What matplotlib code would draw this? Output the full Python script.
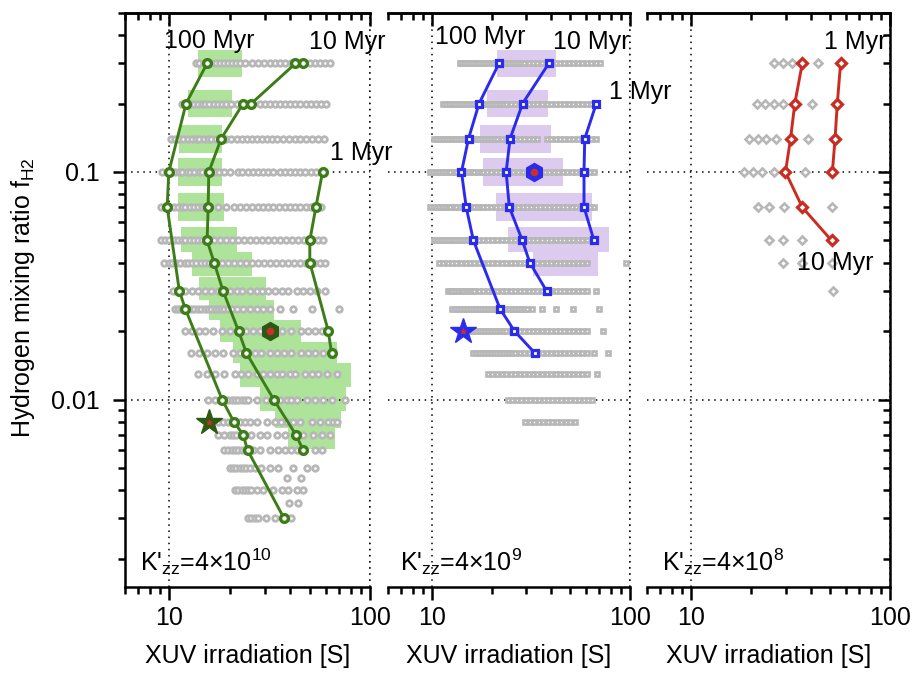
import numpy as np
import matplotlib
matplotlib.use("Agg")
import matplotlib.pyplot as plt
from matplotlib.patches import Rectangle
from matplotlib.ticker import FixedLocator, LogLocator, NullFormatter, FuncFormatter

plt.rcParams['font.family'] = ['Liberation Sans', 'DejaVu Sans']
plt.rcParams['mathtext.default'] = 'regular'
plt.rcParams['font.size'] = 18

# ---------------- panel 1 (K'zz = 4e10) ----------------
grey1_y = [0.3, 0.2, 0.14, 0.1, 0.07, 0.05, 0.04, 0.03, 0.025, 0.02, 0.016, 0.013,
           0.01, 0.008, 0.007, 0.006, 0.005, 0.0045, 0.004, 0.0035, 0.003]
grey1_x = [
    [13.5, 14.1, 14.8, 15.5, 16.2, 17.0, 17.8, 18.6, 19.5, 20.4, 21.4, 22.4, 23.7, 25.7, 27.5,
     29.5, 31.6, 33.5, 35.5, 37.6, 40.3, 43.2, 46.8, 50.1, 53.1, 56.2, 59.6, 63.1],
    [11.5, 12.0, 12.6, 13.2, 13.8, 14.5, 15.1, 15.8, 16.6, 17.4, 18.2, 19.1, 20.2, 21.6, 23.1,
     25.7, 28.2, 29.9, 31.6, 33.5, 35.5, 37.6, 39.8, 42.2, 44.7, 47.9, 50.7, 53.7, 56.9, 60.3],
    [10.2, 10.7, 11.2, 11.7, 12.3, 12.9, 13.5, 14.1, 14.8, 15.5, 16.2, 17.0, 18.2, 19.1, 20.2,
     21.6, 22.9, 24.3, 25.7, 27.2, 28.8, 30.5, 32.4, 34.3, 36.7, 39.4, 42.2, 44.7, 47.9, 51.3,
     54.9, 58.9],
    [9.2, 9.7, 10.1, 10.6, 11.1, 11.6, 12.2, 12.7, 13.3, 14.0, 14.6, 15.3, 16.0, 16.8, 17.6,
     18.6, 20.0, 21.9, 23.1, 24.5, 26.0, 27.5, 29.2, 30.9, 32.7, 35.5, 37.6, 39.8, 42.2, 44.7,
     47.3, 50.7, 53.7],
    [9.1, 9.5, 10.0, 10.5, 11.0, 11.5, 12.0, 12.6, 13.2, 13.8, 14.5, 15.1, 15.8, 17.4, 19.1,
     20.9, 22.4, 24.0, 25.7, 27.5, 29.2, 30.9, 32.7, 35.1, 37.6, 39.8, 42.2, 44.7, 47.9, 50.7,
     53.7, 56.9],
    [9.1, 9.5, 10.0, 10.5, 11.0, 11.5, 12.0, 12.6, 13.2, 13.8, 14.5, 15.3, 16.6, 17.8, 19.1,
     20.4, 21.9, 23.4, 25.1, 26.9, 28.8, 30.9, 33.1, 35.5, 38.0, 40.7, 43.7, 46.8, 51.3, 54.9, 58.2],
    [9.4, 9.9, 10.3, 10.8, 11.3, 11.9, 12.4, 13.0, 13.6, 14.3, 15.0, 15.8, 17.0, 18.2, 19.5,
     20.9, 22.4, 24.0, 25.7, 27.5, 29.5, 31.6, 33.9, 36.3, 38.9, 41.7, 44.7, 47.9, 52.5, 56.2, 59.6],
    [10.4, 11.2, 11.9, 12.9, 13.8, 15.0, 16.2, 17.4, 18.4, 20.0, 21.6, 23.1, 25.1, 27.2, 28.8,
     30.9, 33.5, 36.3, 38.9, 43.2, 46.2, 50.1, 54.3, 59.6],
    [10.6, 11.0, 11.4, 11.9, 12.3, 12.8, 13.3, 13.9, 14.4, 15.0, 15.5, 16.1, 16.8, 17.4, 18.1,
     18.8, 19.6, 20.4, 21.6, 23.3, 25.1, 27.2, 29.2, 31.6, 35.5, 41.4, 51.2, 70.0],
    [11.9, 12.9, 14.0, 15.1, 16.5, 18.3, 20.0, 22.2, 24.0, 26.1, 28.2, 31.6, 36.2, 40.5, 45.5,
     49.2, 53.1, 57.4, 62.0],
    [12.8, 14.0, 15.3, 16.8, 18.5, 20.7, 22.4, 24.2, 26.6, 28.7, 31.6, 34.2, 37.2, 40.5, 45.5,
     49.2, 53.1, 58.5, 64.3],
    [13.9, 15.3, 16.8, 18.8, 21.1, 22.8, 24.6, 27.2, 29.3, 31.6, 34.2, 36.6, 39.8, 42.2, 47.3,
     51.2, 55.3, 60.7, 68.2],
    [15.5, 16.8, 18.1, 19.6, 20.4, 21.1, 22.0, 22.9, 23.7, 24.6, 27.2, 30.2, 32.9, 35.5, 38.4,
     40.5, 43.0, 48.3, 53.1, 58.5, 64.3, 75.0],
    [17.4, 18.5, 19.6, 20.4, 21.1, 22.4, 23.7, 25.1, 27.2, 30.5, 33.5, 35.9, 38.4, 41.4, 44.7,
     51.2, 56.2, 62.0, 65.6, 68.2],
    [17.4, 18.8, 20.0, 20.7, 21.5, 23.1, 25.6, 28.2, 30.6, 34.2, 37.6, 42.2, 46.4, 52.1, 57.4, 63.1],
    [18.8, 19.6, 20.4, 21.1, 22.0, 22.9, 23.7, 24.5, 26.1, 28.2, 31.6, 34.8, 37.6, 40.5, 43.0,
     46.4, 53.1, 57.4],
    [20.0, 20.7, 21.5, 22.4, 23.3, 24.2, 25.1, 26.6, 28.7, 31.6, 34.8, 41.4, 48.3, 53.1],
    [38.4, 45.5],
    [21.1, 22.0, 22.9, 23.7, 24.6, 25.6, 27.2, 29.2, 32.9, 36.2, 39.1, 43.0, 46.4],
    [39.4, 43.9],
    [24.6, 25.6, 26.6, 27.6, 30.2, 33.5, 37.2, 40.5],
]
box1_y = [0.3, 0.2, 0.14, 0.1, 0.07, 0.05, 0.04, 0.03, 0.025, 0.02, 0.016, 0.013, 0.01, 0.008, 0.007]
box1_lo = [13.8, 12.4, 11.2, 11.0, 11.0, 11.4, 13.0, 14.1, 15.7, 17.8, 20.7, 22.6, 28.2, 33.5, 39.0]
box1_hi = [23.1, 20.4, 18.3, 18.3, 18.8, 21.8, 25.9, 30.2, 33.3, 45.2, 68.1, 80.1, 75.7, 71.6, 66.8]

g1_x = [58.0, 53.7, 50.1, 50.1, 61.9, 64.3]
g1_y = [0.1, 0.07, 0.05, 0.04, 0.02, 0.016]
g10_x = [46.4, 42.5, 25.6, 23.3, 18.1, 15.7, 15.6, 15.4, 16.7, 18.5, 22.1, 24.2, 33.1, 42.7, 46.4]
g10_y = [0.3, 0.3, 0.2, 0.2, 0.14, 0.1, 0.07, 0.05, 0.04, 0.03, 0.02, 0.016, 0.01, 0.007, 0.006]
g100_x = [15.4, 12.1, 9.92, 9.74, 11.2, 12.0, 18.3, 20.9, 23.3, 24.5, 37.3]
g100_y = [0.3, 0.2, 0.1, 0.07, 0.03, 0.025, 0.01, 0.008, 0.007, 0.006, 0.003]
hex1 = (31.6, 0.02)
star1 = (15.7, 0.008)

# ---------------- panel 2 (K'zz = 4e9) ----------------
grey2_y = [0.3, 0.2, 0.14, 0.1, 0.07, 0.05, 0.04, 0.03, 0.025, 0.02, 0.016, 0.013, 0.01, 0.008]
grey2_x = [
    [13.8, 14.1, 14.6, 15.1, 15.6, 16.2, 16.7, 17.3, 17.9, 18.6, 19.2, 19.9, 20.6, 21.3, 22.1,
     22.9, 23.7, 24.5, 25.4, 26.3, 27.2, 28.2, 29.2, 30.8, 32.4, 34.1, 36.0, 37.9, 39.9, 42.1,
     44.3, 46.7, 49.2, 51.8, 54.6, 57.5, 60.6, 63.8, 67.2, 70.8],
    [11.4, 11.8, 12.2, 12.7, 13.1, 13.6, 14.1, 14.6, 15.1, 15.6, 16.2, 16.7, 17.3, 17.9, 18.6,
     19.2, 19.9, 20.6, 21.3, 22.1, 22.9, 23.7, 25.0, 26.3, 27.7, 29.2, 30.8, 32.4, 34.1, 36.0,
     37.9, 39.9, 42.1, 44.3, 46.7, 49.2, 51.8, 54.6, 57.5, 60.6, 63.8, 67.2],
    [10.3, 10.6, 11.0, 11.4, 11.8, 12.2, 12.7, 13.1, 13.6, 14.1, 14.6, 15.1, 15.6, 16.2, 16.7,
     17.3, 17.9, 18.6, 19.2, 19.9, 20.6, 21.3, 22.5, 23.7, 25.0, 26.3, 27.7, 29.2, 30.8, 32.4,
     34.1, 37.9, 39.9, 42.1, 44.3, 46.7, 49.2, 51.8, 54.6, 57.5, 60.6, 63.8, 67.2],
    [9.8, 10.1, 10.5, 10.8, 11.2, 11.6, 12.0, 12.4, 12.9, 13.3, 13.8, 14.3, 14.8, 15.3, 15.9,
     16.4, 17.0, 17.6, 18.2, 18.9, 19.9, 21.0, 22.1, 23.3, 24.5, 25.8, 27.2, 28.7, 30.2, 31.8,
     33.5, 35.3, 37.2, 39.2, 41.3, 43.5, 45.8, 48.3, 50.9, 53.6, 56.5, 59.5, 62.7, 66.0],
    [9.8, 10.1, 10.5, 10.8, 11.2, 11.6, 12.0, 12.4, 12.9, 13.3, 13.8, 14.3, 14.8, 15.3, 15.9,
     16.4, 17.0, 17.6, 18.2, 18.9, 19.9, 21.0, 22.1, 23.3, 24.5, 25.8, 27.2, 28.7, 30.2, 31.8,
     33.5, 35.3, 37.2, 39.2, 41.3, 43.5, 45.8, 48.3, 50.9, 53.6, 56.5, 59.5, 62.7, 66.0],
    [10.3, 10.6, 11.0, 11.4, 11.8, 12.2, 12.7, 13.1, 13.6, 14.1, 14.6, 15.1, 15.6, 16.4, 17.3,
     18.2, 19.2, 20.2, 21.3, 22.5, 23.7, 25.0, 26.3, 27.7, 29.2, 30.8, 32.4, 34.1, 36.0, 37.9,
     39.9, 42.1, 44.3, 46.7, 49.2, 51.8, 54.6, 57.5, 60.6],
    [10.8, 11.4, 12.0, 12.7, 13.3, 14.0, 14.8, 15.6, 16.4, 17.3, 18.2, 19.2, 20.2, 21.3, 22.5,
     23.7, 25.0, 26.3, 27.7, 29.2, 30.8, 32.4, 34.1, 36.0, 37.9, 39.9, 42.1, 44.3, 46.7, 49.2,
     51.8, 54.6, 57.5, 60.6, 95.5],
    [12.0, 12.4, 12.7, 13.1, 13.6, 14.0, 14.4, 14.8, 15.2, 15.6, 16.0, 16.4, 17.3, 18.2, 19.2,
     20.2, 21.3, 22.5, 23.7, 25.0, 26.3, 27.7, 29.2, 30.8, 32.4, 34.1, 36.0, 37.9, 39.9, 42.1,
     44.3, 46.7, 49.2, 51.8, 54.6, 57.5, 60.6, 67.2],
    [12.7, 13.1, 13.6, 14.1, 14.6, 15.1, 15.6, 16.2, 16.7, 17.3, 17.9, 18.6, 19.2, 19.9, 20.6,
     21.3, 22.1, 22.9, 23.7, 24.5, 25.4, 26.3, 27.2, 28.2, 29.2, 30.2, 31.9, 36.1, 42.2, 51.6, 70.1],
    [15.6, 16.2, 16.7, 17.3, 17.9, 18.6, 19.2, 19.9, 20.6, 21.3, 22.1, 22.9, 23.7, 25.0, 26.3,
     27.7, 29.2, 30.8, 32.4, 34.1, 36.0, 37.9, 39.9, 42.1, 44.3, 46.7, 49.2, 51.8, 54.6, 57.5,
     60.6, 73.0],
    [16.2, 16.7, 17.3, 17.9, 18.6, 19.2, 19.9, 20.6, 21.3, 22.1, 22.9, 23.7, 24.5, 25.4, 26.3,
     27.7, 29.2, 30.8, 32.4, 34.1, 36.0, 37.9, 39.9, 42.1, 44.3, 46.7, 49.2, 51.8, 54.6, 57.5,
     60.6, 65.6, 77.4],
    [19.2, 20.2, 21.3, 22.5, 23.7, 25.0, 26.3, 27.7, 29.2, 30.8, 32.4, 34.1, 36.0, 37.9, 39.9,
     42.1, 44.3, 46.7, 49.2, 51.8, 54.6, 57.5, 60.6, 68.5],
    [24.2, 25.5, 26.8, 28.3, 29.8, 31.4, 33.0, 34.8, 36.6, 38.6, 40.6, 42.8, 45.1, 47.5, 50.0,
     52.7, 55.5, 58.4, 61.6, 64.5],
    [29.5, 31.2, 32.8, 34.6, 36.4, 38.4, 40.4, 42.6, 44.9, 47.3, 49.8, 52.5],
]
box2_y = [0.3, 0.2, 0.14, 0.1, 0.07, 0.05, 0.04]
box2_lo = [21.4, 19.0, 17.5, 18.2, 21.1, 24.2, 32.4]
box2_hi = [42.2, 38.5, 39.8, 45.8, 64.1, 78.2, 69.1]

b1_x = [67.6, 59.1, 58.6, 58.6, 65.8]
b1_y = [0.2, 0.14, 0.1, 0.07, 0.05]
b10_x = [38.9, 28.7, 24.8, 23.7, 24.6, 28.6, 31.2, 37.9]
b10_y = [0.3, 0.2, 0.14, 0.1, 0.07, 0.05, 0.04, 0.03]
b100_x = [21.8, 17.3, 15.3, 14.1, 14.9, 16.2, 22.1, 26.1, 33.1]
b100_y = [0.3, 0.2, 0.14, 0.1, 0.07, 0.05, 0.025, 0.02, 0.016]
hex2 = (32.8, 0.1)
star2 = (14.4, 0.02)

# ---------------- panel 3 (K'zz = 4e8) ----------------
grey3_y = [0.3, 0.2, 0.14, 0.1, 0.07, 0.05, 0.04, 0.03]
grey3_x = [
    [26.0, 28.9, 32.0, 43.6],
    [21.4, 23.6, 26.0, 28.9, 40.4],
    [19.6, 21.6, 23.9, 26.8, 38.7],
    [18.5, 20.4, 22.7, 26.0, 37.2],
    [21.6, 24.7, 29.2, 50.8],
    [24.5, 28.9, 36.2],
    [28.9, 36.2, 50.8],
    [51.6],
]
r1_x = [56.4, 54.3, 52.9, 51.3]
r1_y = [0.3, 0.2, 0.14, 0.1]
r10_x = [36.2, 33.2, 31.6, 29.8, 36.2, 50.8]
r10_y = [0.3, 0.2, 0.14, 0.1, 0.07, 0.05]

green = '#3d7d18'
dkgreen = '#2c5a12'
lightgreen = '#ade49a'
blue = '#2b2bee'
lavender = '#dccbef'
red = '#cc2b1f'
grey = '#b7b7b7'
dot = (0, (1, 3))

fig = plt.figure(figsize=(9.17, 6.75), dpi=100)
ax1 = fig.add_axes([0.1363, 0.1304, 0.2672, 0.8504])
ax2 = fig.add_axes([0.4231, 0.1304, 0.2639, 0.8504])
ax3 = fig.add_axes([0.7056, 0.1304, 0.2650, 0.8504])


def style(ax, side):
    ax.patch.set_visible(False)
    ax.set_xscale('log')
    ax.set_yscale('log')
    ax.set_xlim(6, 100)
    ax.set_ylim(0.0015, 0.5)
    for s in ax.spines.values():
        s.set_linewidth(1.8)
    ax.spines['left'].set_visible(side == 'left')
    ax.spines['right'].set_visible(side == 'right')
    ax.xaxis.set_major_locator(FixedLocator([10, 100]))
    ax.xaxis.set_minor_locator(LogLocator(base=10, subs=np.arange(2, 10)))
    ax.xaxis.set_major_formatter(FuncFormatter(lambda v, p: f'{v:g}'))
    ax.xaxis.set_minor_formatter(NullFormatter())
    ax.yaxis.set_major_locator(FixedLocator([0.01, 0.1]))
    ax.yaxis.set_minor_locator(LogLocator(base=10, subs=np.arange(2, 10)))
    ax.yaxis.set_major_formatter(FuncFormatter(lambda v, p: f'{v:g}'))
    ax.yaxis.set_minor_formatter(NullFormatter())
    ax.grid(True, which='major', color='k', ls=dot, lw=1.1)
    if side != 'right':
        # gridline at x=100 sits on the open right edge
        ax.axvline(100, color='k', ls=dot, lw=1.1, clip_on=False, zorder=0.5)
    ax.tick_params(axis='x', which='both', direction='out', top=False, width=1.8, pad=5)
    ax.tick_params(axis='x', which='major', length=9)
    ax.tick_params(axis='x', which='minor', length=5)
    if side == 'left':
        ax.tick_params(axis='y', which='both', direction='out', right=False, width=1.8, pad=9)
    elif side == 'right':
        ax.yaxis.tick_right()
        ax.tick_params(axis='y', which='both', direction='in', left=False,
                       labelright=False, width=1.8)
    else:
        ax.tick_params(axis='y', which='both', left=False, right=False, labelleft=False)
    ax.tick_params(axis='y', which='major', length=9)
    ax.tick_params(axis='y', which='minor', length=5)
    # top ticks point into the panel
    tw = ax.twiny()
    tw.set_xscale('log')
    tw.set_xlim(6, 100)
    tw.xaxis.set_major_locator(FixedLocator([10, 100]))
    tw.xaxis.set_minor_locator(LogLocator(base=10, subs=np.arange(2, 10)))
    tw.xaxis.set_minor_formatter(NullFormatter())
    tw.tick_params(axis='x', which='both', direction='in', top=True, bottom=False,
                   labeltop=False, width=1.8)
    tw.tick_params(axis='x', which='major', length=9)
    tw.tick_params(axis='x', which='minor', length=5)
    for k, s in tw.spines.items():
        s.set_visible(k == 'top')
        s.set_linewidth(1.8)
    ax.set_xlabel('XUV irradiation [S]', labelpad=10)


def draw_boxes(ax, rows, lo, hi, color):
    ly = np.log10(rows)
    top = ly + 0.061
    bot = ly - 0.061
    for i in range(len(rows) - 1):
        gap = ly[i] - ly[i + 1]
        if gap < 0.122:
            bot[i] = top[i + 1] = ly[i] - gap / 2
    for a, b, t, u in zip(lo, hi, bot, top):
        ax.add_patch(Rectangle((a, 10**t), b - a, 10**u - 10**t, color=color, lw=0, zorder=1))


def draw_grey(ax, rows, xs, marker, ms, mew):
    for y, xr in zip(rows, xs):
        ax.plot(xr, [y] * len(xr), ls='none', marker=marker, ms=ms, mfc='white',
                mec=grey, mew=mew, zorder=2)


for ax, side in [(ax1, 'left'), (ax2, 'none'), (ax3, 'right')]:
    style(ax, side)

# panel 1
draw_boxes(ax1, box1_y, box1_lo, box1_hi, lightgreen)
draw_grey(ax1, grey1_y, grey1_x, 'o', 4.0, 2.0)
for xs, ys in [(g1_x, g1_y), (g10_x, g10_y), (g100_x, g100_y)]:
    ax1.plot(xs, ys, color=green, lw=2.1, marker='o', ms=5.6, mfc='white',
             mec=green, mew=2.4, zorder=4)
ax1.plot(*hex1, marker='h', ms=13, mfc=dkgreen, mec=dkgreen, zorder=5)
ax1.plot(*hex1, marker='o', ms=5.5, mfc='#c8302a', mec='none', zorder=6)
ax1.plot(*star1, marker='*', ms=19, mfc=dkgreen, mec=dkgreen, zorder=5)
ax1.plot(*star1, marker='*', ms=6, mfc='#c8302a', mec='none', zorder=6)
ax1.text(9.44, 0.377, '100 Myr', va='center', ha='left', zorder=7)
ax1.text(49.6, 0.372, '10 Myr', va='center', ha='left', zorder=7, clip_on=False)
ax1.text(63.1, 0.121, '1 Myr', va='center', ha='left', zorder=7, clip_on=False)
ax1.text(0.06, 0.044, "K'$_{zz}$=4×10$^{10}$", transform=ax1.transAxes, va='center', ha='left')
ax1.set_ylabel('Hydrogen mixing ratio f$_{H2}$')
ax1.yaxis.set_label_coords(-0.36, 0.505)

# panel 2
draw_boxes(ax2, box2_y, box2_lo, box2_hi, lavender)
draw_grey(ax2, grey2_y, grey2_x, 's', 3.5, 1.9)
for xs, ys in [(b1_x, b1_y), (b10_x, b10_y), (b100_x, b100_y)]:
    ax2.plot(xs, ys, color=blue, lw=2.1, marker='s', ms=5.0, mfc='white',
             mec=blue, mew=2.3, zorder=4)
ax2.plot(*hex2, marker='h', ms=13, mfc=blue, mec=blue, zorder=5)
ax2.plot(*hex2, marker='o', ms=5.5, mfc='#c8302a', mec='none', zorder=6)
ax2.plot(*star2, marker='*', ms=19, mfc=blue, mec=blue, zorder=5)
ax2.plot(*star2, marker='*', ms=6, mfc='#c8302a', mec='none', zorder=6)
ax2.text(10.4, 0.393, '100 Myr', va='center', ha='left', zorder=7)
ax2.text(40.9, 0.373, '10 Myr', va='center', ha='left', zorder=7, clip_on=False)
ax2.text(78.4, 0.225, '1 Myr', va='center', ha='left', zorder=7, clip_on=False)
ax2.text(0.05, 0.044, "K'$_{zz}$=4×10$^{9}$", transform=ax2.transAxes, va='center', ha='left')

# panel 3
draw_grey(ax3, grey3_y, grey3_x, 'D', 3.6, 1.9)
for xs, ys in [(r1_x, r1_y), (r10_x, r10_y)]:
    ax3.plot(xs, ys, color=red, lw=2.1, marker='D', ms=5.0, mfc='white',
             mec=red, mew=2.3, zorder=4)
ax3.text(46.6, 0.373, '1 Myr', va='center', ha='left', zorder=7)
ax3.text(34.1, 0.0397, '10 Myr', va='center', ha='left', zorder=7)
ax3.text(0.06, 0.044, "K'$_{zz}$=4×10$^{8}$", transform=ax3.transAxes, va='center', ha='left')

fig.savefig('out.png', dpi=100)
